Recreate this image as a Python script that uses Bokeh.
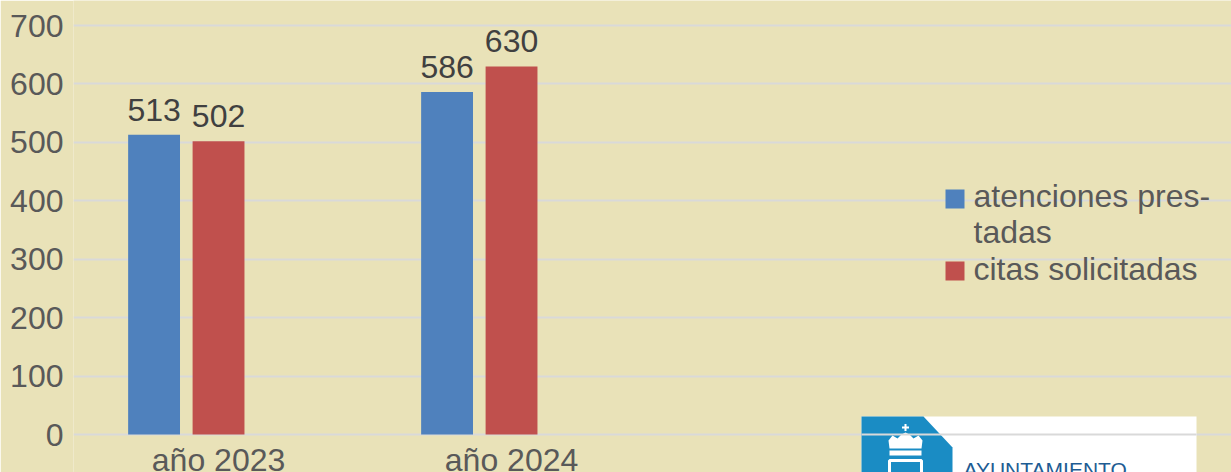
from bokeh.plotting import figure
from bokeh.models import FixedTicker, Range1d, ColumnDataSource
from bokeh.core.properties import value
from bokeh.embed import file_html
from bokeh.resources import INLINE

# ---------------- data ----------------
categories = ["año 2023", "año 2024"]
series_names = ["atenciones prestadas", "citas solicitadas"]
legend_lines = [["atenciones pres-", "tadas"], ["citas solicitadas"]]
atenciones = [513, 586]
citas = [502, 630]
y_ticks = [0, 100, 200, 300, 400, 500, 600, 700]
series_values = [atenciones, citas]

# ---------------- style ----------------
BG = "#E9E2B8"
GRID = "#D9D9D9"
COLORS = ["#4F81BD", "#C0504D"]
FONT = "Liberation Sans"
FS = "32px"
TICK_COLOR = "#595959"
LABEL_COLOR = "#404040"

W, H = 1231, 472
FRAME_LEFT = 73
PX_PER_CAT = 293.0
X0 = -0.495
PX_PER_Y = 409.0 / 700.0
ZERO_PX = 434.0
TXT_FIX = 12  # baseline correction for text glyphs (px)


def xd(px):  # canvas px -> data x
    return X0 + (px - FRAME_LEFT) / PX_PER_CAT


def yd(py):  # canvas px -> data y
    return (ZERO_PX - py) / PX_PER_Y


p = figure(width=W, height=H, output_backend="svg", toolbar_location=None,
           x_range=Range1d(xd(FRAME_LEFT), xd(W)),
           y_range=Range1d(yd(H), yd(0)),
           min_border_left=FRAME_LEFT, min_border_right=0,
           min_border_top=0, min_border_bottom=0,
           background_fill_color=BG, border_fill_color=BG,
           outline_line_color=None)

# axes
p.xaxis.fixed_location = 0
p.xaxis.ticker = FixedTicker(ticks=list(range(len(categories))))
p.xaxis.major_label_overrides = {i: c for i, c in enumerate(categories)}
p.yaxis.ticker = FixedTicker(ticks=y_ticks)
for ax in (p.xaxis, p.yaxis):
    ax.axis_line_color = None
    ax.major_tick_line_color = None
    ax.minor_tick_line_color = None
    ax.major_tick_out = 0
    ax.major_tick_in = 0
    ax.major_label_text_font = FONT
    ax.major_label_text_font_size = FS
    ax.major_label_text_color = TICK_COLOR
p.yaxis.major_label_standoff = 10
p.xaxis.major_label_standoff = 7

p.xgrid.visible = False
p.ygrid.ticker = FixedTicker(ticks=y_ticks)
p.ygrid.grid_line_color = GRID
p.ygrid.grid_line_width = 2

# ---------------- logo (decoration, lower right) ----------------
LOGO_BLUE = "#1A8CC4"
p.quad(left=[xd(861)], right=[xd(1196)], top=[yd(416)], bottom=[yd(480)],
       fill_color="white", line_color=None)
p.patch(x=[xd(861), xd(923), xd(952), xd(952), xd(861)],
        y=[yd(416), yd(416), yd(447), yd(480), yd(480)],
        fill_color=LOGO_BLUE, line_color=None)
# stylised crown
p.patch(x=[xd(889), xd(888), xd(892), xd(897), xd(901), xd(905), xd(909), xd(913),
           xd(918), xd(922), xd(921)],
        y=[yd(448), yd(440), yd(435), yd(438), yd(434), yd(432), yd(434), yd(438),
           yd(435), yd(440), yd(448)],
        fill_color="white", line_color=None)
p.quad(left=[xd(889)], right=[xd(921)], top=[yd(450)], bottom=[yd(455)],
       fill_color="white", line_color=None)
p.scatter(x=[xd(905)], y=[yd(427)], size=7, marker="cross", line_color="white", line_width=2)
# shield outline
p.quad(left=[xd(889)], right=[xd(921)], top=[yd(460)], bottom=[yd(480)],
       fill_color=None, line_color="white", line_width=3)
p.text(x=[xd(963)], y=[yd(477 - 8)], text=["AYUNTAMIENTO"], text_font=value(FONT),
       text_font_size="21px", text_color="#1E5C93", text_baseline="alphabetic")
# zero gridline shows on top of the logo
p.segment(x0=[xd(861)], x1=[xd(1196)], y0=[y_ticks[0]], y1=[y_ticks[0]],
          line_color=GRID, line_width=2)

# ---------------- bars ----------------
offsets = [-0.22, 0.0]
bar_w = 0.177
for vals, off, col in zip(series_values, offsets, COLORS):
    xs = [i + off for i in range(len(categories))]
    src = ColumnDataSource(dict(x=xs, top=vals, lab=[str(v) for v in vals]))
    p.vbar(x="x", top="top", width=bar_w, source=src, fill_color=col, line_color=None)
    p.text(x="x", y="top", text="lab", source=src, text_align="center",
           text_baseline="alphabetic", y_offset=-13 - TXT_FIX, text_font=value(FONT),
           text_font_size=FS, text_color=LABEL_COLOR)

# ---------------- legend (manual, to allow the hyphenated wrap) ----------------
sq_tops = [189, 261]
line_baselines = [[207, 243], [280]]
for col, top, lines, bases in zip(COLORS, sq_tops, legend_lines, line_baselines):
    p.quad(left=[xd(945)], right=[xd(964)], top=[yd(top)], bottom=[yd(top + 19)],
           fill_color=col, line_color=None)
    for ln, b in zip(lines, bases):
        p.text(x=[xd(973)], y=[yd(b - TXT_FIX)], text=[ln], text_font=value(FONT),
               text_font_size=FS, text_color=TICK_COLOR, text_baseline="alphabetic")

open("out.html", "w").write(file_html(p, INLINE))
